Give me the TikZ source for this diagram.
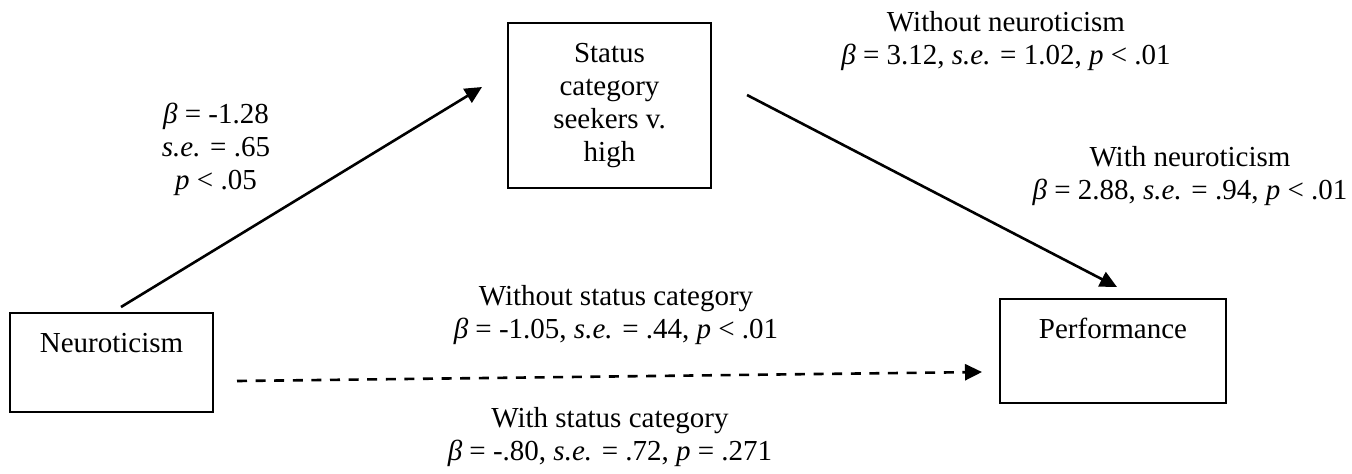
\documentclass[tikz,border=0pt]{standalone}
\usepackage{fontspec}
\setmainfont{Liberation Serif}
\usetikzlibrary{arrows.meta,calc}
\tikzset{
  box/.style={draw, line width=1.1pt, inner sep=0pt, rectangle},
  lbl/.style={font=\fontsize{14.5}{16.5}\selectfont, align=center, inner sep=0pt},
  conn/.style={line width=1.3pt, -{Triangle[length=8.5pt,width=8pt]}},
  dconn/.style={conn, dash pattern=on 5pt off 4.3pt},
}
\newcommand{\bt}{\textit{β}}
\begin{document}
\begin{tikzpicture}[x=0.5pt,y=-0.5pt]
\useasboundingbox (0,0) rectangle (1352,473);
% boxes
\node[box, minimum width=101.5pt, minimum height=49.5pt] (neur) at (111.5,362.5) {};
\node[lbl, anchor=base] (neurtxt) at (111.5,352) {Neuroticism};
\node[box, lbl, minimum width=101.5pt, minimum height=82.5pt] (stat) at (609.5,105.5) {Status\\category\\seekers v.\\high};
\node[box, minimum width=113pt, minimum height=52pt] (perf) at (1113,351) {};
\node[lbl, anchor=base] (perftxt) at (1113,338) {Performance};
% connector end points
\coordinate (a1s) at (121,307);
\coordinate (a1e) at (482,87);
\coordinate (a2s) at (747,95);
\coordinate (a2e) at (1117,287);
\coordinate (a3s) at (237,381);
\coordinate (a3e) at (982,372);
\draw[conn] (a1s) -- (a1e);
\draw[conn] (a2s) -- (a2e);
\draw[dconn] (a3s) -- (a3e);
% labels
\node[lbl] (l1) at (216,149) {\bt{} = -1.28\\\textit{s.e.} = .65\\\textit{p} < .05};
\node[lbl] (l2) at (1006,41.5) {Without neuroticism\\\bt{} = 3.12, \textit{s.e.} = 1.02, \textit{p} < .01};
\node[lbl] (l3) at (1190,176.5) {With neuroticism\\\bt{} = 2.88, \textit{s.e.} = .94, \textit{p} < .01};
\node[lbl] (l4) at (616,315.5) {Without status category\\\bt{} = -1.05, \textit{s.e.} = .44, \textit{p} < .01};
\node[lbl] (l5) at (610,437.5) {With status category\\\bt{} = -.80, \textit{s.e.} = .72, \textit{p} = .271};
\end{tikzpicture}
\end{document}
